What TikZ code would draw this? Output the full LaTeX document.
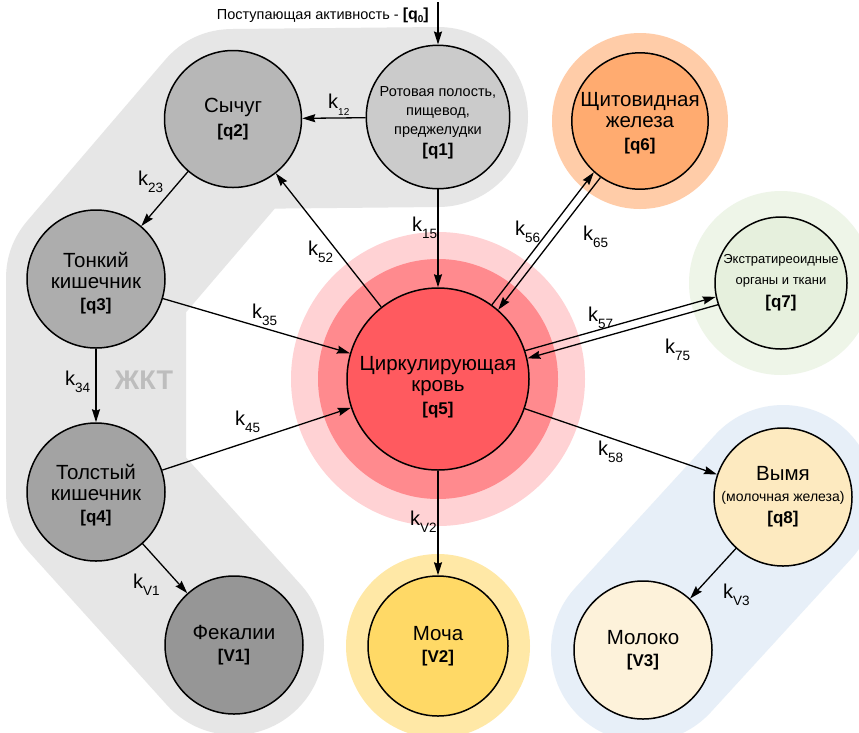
\documentclass[tikz,border=0pt]{standalone}
\usepackage{fontspec}
\setmainfont{Liberation Sans}
\usetikzlibrary{arrows.meta}
\definecolor{bandgray}{HTML}{E6E6E6}
\definecolor{bandblue}{HTML}{E7EFF8}
\definecolor{cq1}{HTML}{CBCBCB}
\definecolor{cq2}{HTML}{B7B7B7}
\definecolor{cq3}{HTML}{ADADAD}
\definecolor{cq4}{HTML}{A3A3A3}
\definecolor{cv1}{HTML}{969696}
\definecolor{cq5}{HTML}{FF5A5F}
\definecolor{cq5mid}{HTML}{FF8A8E}
\definecolor{cq5out}{HTML}{FFD2D4}
\definecolor{cq6}{HTML}{FFAB70}
\definecolor{cq6out}{HTML}{FFCCA8}
\definecolor{cq7}{HTML}{E6F0DD}
\definecolor{cq7out}{HTML}{EEF5E8}
\definecolor{cq8}{HTML}{FDEAC0}
\definecolor{cv3}{HTML}{FDF2DA}
\definecolor{cv2}{HTML}{FFD966}
\definecolor{cv2out}{HTML}{FFE8A6}
\definecolor{zkt}{HTML}{BDBDBD}
\newcommand\ksub[2][13.5]{k\raisebox{-7pt}{\fontsize{#1}{#1}\selectfont #2}}
\newcommand\bq[1]{{\bfseries\fontsize{17}{20}\selectfont #1}}
\begin{document}
\begin{tikzpicture}[x=1pt,y=-1pt,
  comp/.style={circle, draw, line width=1.5pt, inner sep=0pt, align=center,
    font=\fontsize{20.5}{21}\selectfont},
  arr/.style={line width=1.3pt, -{Stealth[length=13pt,width=8pt,inset=1.5pt]}},
  klab/.style={anchor=base west, inner sep=0pt, font=\fontsize{20}{20}\selectfont}]
\useasboundingbox (0,0) rectangle (859,732);
\clip (0,0) rectangle (859,732);
\fill[white] (0,0) rectangle (859,732);
% centres
\coordinate (c1) at (438,117);
\coordinate (c2) at (233,119);
\coordinate (c3) at (96,279);
\coordinate (c4) at (96,492);
\coordinate (c5) at (438,379);
\coordinate (c6) at (640,121);
\coordinate (c7) at (781,283);
\coordinate (c8) at (783,497);
\coordinate (cv1) at (234,645);
\coordinate (cv2) at (438,646);
\coordinate (cv3) at (643,650);
% bands
\draw[bandgray, line width=180pt, line cap=round, line join=round]
  (c1) -- (c2) -- (c3) -- (c4) -- (cv1);
\draw[bandblue, line width=184pt, line cap=round] (cv3) -- (c8);
% halos
\fill[cq5out] (c5) circle[radius=147pt];
\fill[cq5mid] (c5) circle[radius=120pt];
\fill[cq6out] (c6) circle[radius=88pt];
\fill[cq7out] (c7) circle[radius=92pt];
\fill[cv2out] (cv2) circle[radius=92pt];
% ЖКТ label
\node[font=\bfseries\fontsize{27}{27}\selectfont, text=zkt] (zkt) at (144,380) {ЖКТ};
% nodes
\node[comp, fill=cq1, minimum size=128pt] (q1) at (c1)
  {\fontsize{14.5}{18.5}\selectfont\rule{0pt}{22pt}Ротовая полость,\\[-2pt]\fontsize{14.5}{18.5}\selectfont пищевод,\\[-2pt]\fontsize{14.5}{18.5}\selectfont преджелудки\\\bq{[q1]}};
\node[comp, fill=cq2, minimum size=137pt] (q2) at (c2) {Сычуг\\[3pt]\bq{[q2]}};
\node[comp, fill=cq3, minimum size=138pt] (q3) at (c3) {\rule{0pt}{23pt}Тонкий\\кишечник\\[1pt]\bq{[q3]}};
\node[comp, fill=cq4, minimum size=138pt] (q4) at (c4) {\rule{0pt}{22pt}Толстый\\кишечник\\[1pt]\bq{[q4]}};
\node[comp, fill=cv1, minimum size=138pt] (v1) at (cv1) {Фекалии\\[1pt]\bq{[V1]}};
\node[comp, fill=cq5, minimum size=182pt] (q5) at (c5) {\rule{0pt}{31pt}Циркулирующая\\кровь\\[2pt]\bq{[q5]}};
\node[comp, fill=cq6, minimum size=132pt] (q6) at (c6) {\rule{0pt}{19pt}Щитовидная\\железа\\[2pt]\bq{[q6]}};
\node[comp, fill=cq7, minimum size=132pt] (q7) at (c7)
  {\fontsize{13}{16}\selectfont Экстратиреоидные\\\fontsize{13}{16}\selectfont органы и ткани\\[2pt]\bq{[q7]}};
\node[comp, fill=cq8, minimum size=138pt] (q8) at (c8)
  {Вымя\\\fontsize{14}{18}\selectfont(молочная железа)\\[1pt]\bq{[q8]}};
\node[comp, fill=cv2, minimum size=140pt] (v2) at (cv2) {Моча\\[1pt]\bq{[V2]}};
\node[comp, fill=cv3, minimum size=138pt] (v3) at (cv3) {Молоко\\[1pt]\bq{[V3]}};
% input
\coordinate (q0top) at (438,2);
\node[anchor=east, inner sep=0pt, font=\fontsize{14.5}{14.5}\selectfont] (q0lab) at (429,15)
  {Поступающая активность - {\bfseries\fontsize{16}{16}\selectfont [q\raisebox{-3pt}{\fontsize{10}{10}\selectfont 0}]}};
\draw[arr] (q0top) -- (q1);
% connectors
\draw[arr] (q1) -- (q2);
\draw[arr] (q2) -- (q3);
\draw[arr] (q3) -- (q4);
\draw[arr] (q3) -- (q5);
\draw[arr] (q4) -- (q5);
\draw[arr] (q4) -- (v1);
\draw[arr] (q5) -- (q2);
\draw[arr] (q1) -- (q5);
\draw[arr] (q5.54.4) -- (q6.228.4);
\draw[arr] (q6.235.4) -- (q5.49.4);
\draw[arr] (q5.18.2) -- (q7.192.2);
\draw[arr] (q7.199.2) -- (q5.13.2);
\draw[arr] (q5) -- (q8);
\draw[arr] (q5) -- (v2);
\draw[arr] (q8) -- (v3);
% rate labels
\node[klab] (k12) at (328,108) {\ksub[10]{12}};
\node[klab] (k23) at (138,185) {\ksub{23}};
\node[klab] (k52) at (308,255) {\ksub{52}};
\node[klab] (k15) at (412,231) {\ksub{15}};
\node[klab] (k35) at (252,318) {\ksub{35}};
\node[klab] (k34) at (65,385) {\ksub{34}};
\node[klab] (k45) at (235,425) {\ksub{45}};
\node[klab] (kv1) at (133,588) {\ksub{V1}};
\node[klab] (k56) at (515,235) {\ksub{56}};
\node[klab] (k65) at (583,240) {\ksub{65}};
\node[klab] (k57) at (588,321) {\ksub{57}};
\node[klab] (k75) at (665,353) {\ksub{75}};
\node[klab] (k58) at (598,455) {\ksub{58}};
\node[klab] (kv2) at (410,525) {\ksub{V2}};
\node[klab] (kv3) at (723,598) {\ksub{V3}};
\end{tikzpicture}
\end{document}
